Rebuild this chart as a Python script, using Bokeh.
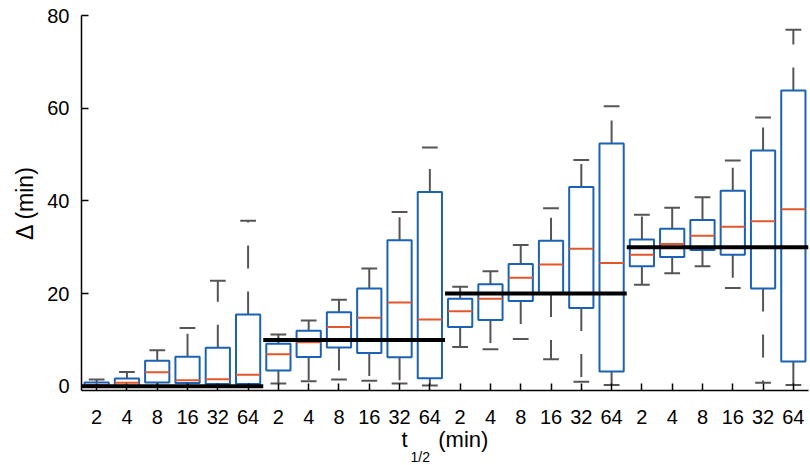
from bokeh.plotting import figure
from bokeh.models import ColumnDataSource, FixedTicker, Range1d, Title
from bokeh.embed import file_html
from bokeh.resources import INLINE

# ---- data ----
t_labels = ["2", "4", "8", "16", "32", "64"]
targets = [0, 10, 20, 30]

q1 = [0.1, 0.1, 0.8, 0.7, 0.5, 0.5,
      3.4, 6.35, 8.4, 7.2, 6.3, 1.75,
      12.8, 14.3, 18.4, 19.9, 16.9, 3.2,
      25.9, 27.9, 29.4, 28.4, 21.1, 5.35]
med = [0.3, 0.75, 3.05, 1.3, 1.55, 2.5,
       6.9, 9.5, 12.8, 14.8, 18.1, 14.4,
       16.2, 18.9, 23.4, 26.3, 29.7, 26.6,
       28.4, 30.7, 32.5, 34.4, 35.6, 38.2]
q3 = [0.8, 1.7, 5.5, 6.4, 8.3, 15.5,
      9.2, 12.0, 16.0, 21.1, 31.5, 41.9,
      18.9, 22.0, 26.4, 31.4, 43.0, 52.4,
      31.7, 34.0, 35.9, 42.2, 50.9, 63.8]
lo = [0.0, 0.0, 0.0, 0.0, 0.0, 0.0,
      0.6, 1.1, 1.5, 1.2, 0.6, 0.2,
      8.5, 8.0, 10.2, 5.85, 1.0, 0.3,
      21.9, 24.4, 25.9, 21.2, 0.75, 0.3]
hi = [1.5, 3.1, 7.8, 12.6, 22.8, 35.7,
      11.2, 14.2, 18.7, 25.4, 37.6, 51.5,
      21.5, 24.8, 30.5, 38.4, 48.8, 60.4,
      37.0, 38.5, 40.8, 48.7, 58.0, 76.9]

n_groups = len(targets)
n_per = len(t_labels)
pos = list(range(1, n_groups * n_per + 1))
tick_labels = t_labels * n_groups

BLUE = "#1b62b4"
ORANGE = "#e2572b"
GRAY = "#555555"
FONT = "Liberation Sans"

src = ColumnDataSource(dict(
    x=pos, q1=q1, med=med, q3=q3, lo=lo, hi=hi,
    xl=[x - 0.4 for x in pos], xr=[x + 0.4 for x in pos],
    cl=[x - 0.26 for x in pos], cr=[x + 0.26 for x in pos],
))

grp = ColumnDataSource(dict(
    x0=[0.5 + g * n_per for g in range(n_groups)],
    x1=[0.5 + (g + 1) * n_per for g in range(n_groups)],
    y=targets,
))

p = figure(width=810, height=465, output_backend="svg", toolbar_location=None,
           x_range=Range1d(0.5, 24.5), y_range=Range1d(-0.9, 80),
           min_border_left=81, min_border_right=2, min_border_top=15,
           min_border_bottom=75)
p.outline_line_color = None
p.xgrid.visible = False
p.ygrid.visible = False
p.background_fill_color = "white"
p.border_fill_color = "white"

# whiskers (dashed), drawn from box edge outward
p.segment(x0="x", y0="q3", x1="x", y1="hi", source=src, line_color=GRAY,
          line_width=2, line_dash="23 23")
p.segment(x0="x", y0="q1", x1="x", y1="lo", source=src, line_color=GRAY,
          line_width=2, line_dash="23 23")
# caps
p.segment(x0="cl", y0="hi", x1="cr", y1="hi", source=src, line_color=GRAY, line_width=2)
p.segment(x0="cl", y0="lo", x1="cr", y1="lo", source=src, line_color=GRAY, line_width=2)
# boxes
p.vbar(x="x", width=0.8, bottom="q1", top="q3", source=src, fill_color="white",
       line_color=BLUE, line_width=2)
# medians
p.segment(x0="xl", y0="med", x1="xr", y1="med", source=src, line_color=ORANGE, line_width=2)
# target lines
p.segment(x0="x0", y0="y", x1="x1", y1="y", source=grp, line_color="black", line_width=4)

# axes
p.xaxis.ticker = FixedTicker(ticks=pos)
p.xaxis.major_label_overrides = {x: lab for x, lab in zip(pos, tick_labels)}
p.yaxis.ticker = FixedTicker(ticks=[0, 20, 40, 60, 80])
for ax in (p.xaxis[0], p.yaxis[0]):
    ax.major_tick_in = 7
    ax.major_tick_out = 0
    ax.minor_tick_in = 0
    ax.minor_tick_out = 0
    ax.axis_line_width = 1.5
    ax.axis_line_color = "black"
    ax.major_tick_line_color = "black"
    ax.major_tick_line_width = 1.5
    ax.major_label_text_font = FONT
    ax.major_label_text_font_size = "20px"
    ax.major_label_text_color = "black"
    ax.major_label_standoff = 12
    ax.axis_label_text_font = FONT
    ax.axis_label_text_font_size = "22px"
    ax.axis_label_text_font_style = "normal"
    ax.axis_label_text_color = "black"

p.xaxis.major_label_standoff = 19
p.yaxis.axis_label = "Δ (min)"
p.yaxis.axis_label_text_font_size = "23px"
p.yaxis.axis_label_standoff = 6

NB = "\u00a0"
p.xaxis.axis_label = "t" + NB * 5 + "(min)"
p.xaxis.axis_label_standoff = 0

p.add_layout(Title(text="1/2", align="left", offset=329, standoff=-15,
                   text_font=FONT, text_font_size="14px",
                   text_font_style="normal", text_color="black"), "below")

open("out.html", "w").write(file_html(p, INLINE))
